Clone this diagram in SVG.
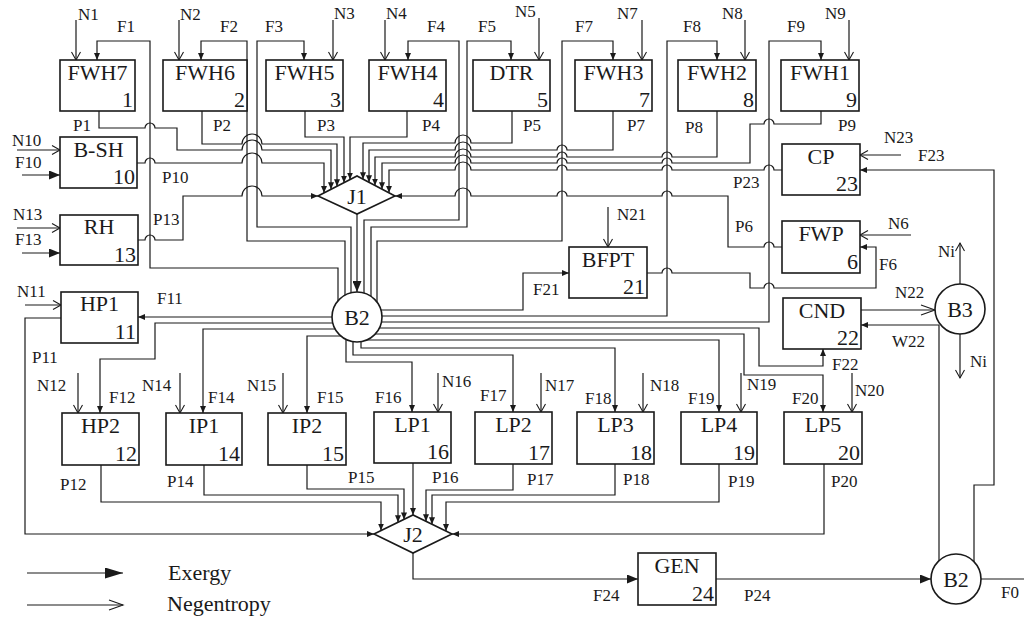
<svg xmlns="http://www.w3.org/2000/svg" width="1024" height="621" viewBox="0 0 1024 621">
<style>
.c path{fill:none;stroke:#1a1a1a;stroke-width:1.2}
.bx rect,.bx circle,.bx polygon{fill:#fff;stroke:#1a1a1a;stroke-width:1.6}
text{font-family:"Liberation Serif","Times New Roman",serif;fill:#1a1a1a}
.t{font-size:22px;text-anchor:middle}
.n{font-size:22px;text-anchor:end}
.l{font-size:17px}
.lg{font-size:22px}
</style>
<defs>
<marker id="s" viewBox="0 0 7 6" refX="7" refY="3" markerWidth="7" markerHeight="6" markerUnits="userSpaceOnUse" orient="auto"><path d="M0,0L7,3L0,6z" fill="#1a1a1a"/></marker>
<marker id="m" viewBox="0 0 11 9" refX="11" refY="4.5" markerWidth="11" markerHeight="9" markerUnits="userSpaceOnUse" orient="auto"><path d="M0,0L11,4.5L0,9z" fill="#1a1a1a"/></marker>
<marker id="L" viewBox="0 0 18 11" refX="18" refY="5.5" markerWidth="18" markerHeight="11" markerUnits="userSpaceOnUse" orient="auto"><path d="M0,0L18,5.5L0,11z" fill="#1a1a1a"/></marker>
<marker id="o" viewBox="-1 -1 10 11" refX="8" refY="4.5" markerWidth="10" markerHeight="11" markerUnits="userSpaceOnUse" orient="auto" overflow="visible"><path d="M0,0L8,4.5L0,9" fill="none" stroke="#1a1a1a" stroke-width="1.1"/></marker>
<marker id="oL" viewBox="-1 -1 16 12" refX="14" refY="5" markerWidth="16" markerHeight="12" markerUnits="userSpaceOnUse" orient="auto" overflow="visible"><path d="M0,0L14,5L0,10" fill="none" stroke="#1a1a1a" stroke-width="1.1"/></marker>
</defs>

<g id="connectors" class="c">
<!-- F lines from B2 to top row -->
<path d="M338,317V268H150V41H97V60" marker-end="url(#s)"/>
<path d="M345,317V241H247V41H201V60" marker-end="url(#s)"/>
<path d="M351,317V227H257V41H304V60" marker-end="url(#s)"/>
<path d="M364,317V220H459V41H408V60" marker-end="url(#s)"/>
<path d="M371,317V227H467V41H511V60" marker-end="url(#s)"/>
<path d="M377,317V241H562V41H613V60" marker-end="url(#s)"/>
<path d="M357,316H667V41H717V60" marker-end="url(#s)"/>
<path d="M357,322H769V41H821V60" marker-end="url(#s)"/>
<!-- B2 right side -->
<path d="M357,310H523V273H569" marker-end="url(#s)"/>
<path d="M357,328H759V366H823V349" marker-end="url(#s)"/>
<path d="M357,334H744V375H823V412" marker-end="url(#s)"/>
<path d="M357,340H719V412" marker-end="url(#s)"/>
<path d="M361,317V348H615V412" marker-end="url(#s)"/>
<path d="M353,317V355H513V412" marker-end="url(#s)"/>
<path d="M346,317V362H412V412" marker-end="url(#s)"/>
<!-- B2 left side -->
<path d="M357,317H138" marker-end="url(#s)"/>
<path d="M357,323H155V359H100V413" marker-end="url(#s)"/>
<path d="M357,329H203V413" marker-end="url(#s)"/>
<path d="M357,336H307V413" marker-end="url(#s)"/>
<!-- J1 to B2 -->
<path d="M357,214V292" marker-end="url(#m)"/>
<!-- P lines into J1 -->
<path d="M99,111V128H145A5,5 0 0 1 155,128H177V150H242A10,10 0 0 1 262,150H331V189.3" marker-end="url(#s)"/>
<path d="M202,111V144H242A10,10 0 0 1 262,144H337V186.3" marker-end="url(#s)"/>
<path d="M305,111V137H344V182.7" marker-end="url(#s)"/>
<path d="M407,111V137H350V179.6" marker-end="url(#s)"/>
<path d="M137,163H145A5,5 0 0 1 155,163H242A10,10 0 0 1 262,163H324V192.9" marker-end="url(#s)"/>
<path d="M138,240H145A5,5 0 0 1 155,240H183V196H242A10,10 0 0 1 262,196H318" marker-end="url(#s)"/>
<path d="M512,111V143H471A8,8 0 0 0 455,143H363V179.2" marker-end="url(#s)"/>
<path d="M613,111V150H567A5,5 0 0 0 557,150H471A8,8 0 0 0 455,150H369V182.3" marker-end="url(#s)"/>
<path d="M717,111V157H672A5,5 0 0 0 662,157H567A5,5 0 0 0 557,157H471A8,8 0 0 0 455,157H375V185.5" marker-end="url(#s)"/>
<path d="M821,111V124H774A5,5 0 0 0 764,124H750V163H672A5,5 0 0 0 662,163H567A5,5 0 0 0 557,163H471A8,8 0 0 0 455,163H382V189.2" marker-end="url(#s)"/>
<path d="M782,170H774A5,5 0 0 0 764,170H672A5,5 0 0 0 662,170H567A5,5 0 0 0 557,170H471A8,8 0 0 0 455,170H389V192.8" marker-end="url(#s)"/>
<path d="M782,247H774A5,5 0 0 0 764,247H728V196H672A5,5 0 0 0 662,196H567A5,5 0 0 0 557,196H471A8,8 0 0 0 455,196H395" marker-end="url(#s)"/>
<!-- F6 from BFPT to FWP -->
<path d="M647,273H662A5,5 0 0 1 672,273H750V288H764A5,5 0 0 1 774,288H876V247H860" marker-end="url(#s)"/>
<!-- P lines into J2 -->
<path d="M61,318H25V534H374" marker-end="url(#s)"/>
<path d="M101,465V502H381V530.6" marker-end="url(#s)"/>
<path d="M204,465V495H398V522.3" marker-end="url(#s)"/>
<path d="M307,465V489H404V519.4" marker-end="url(#s)"/>
<path d="M413,463V515" marker-end="url(#s)"/>
<path d="M513,463V490H426V521.3" marker-end="url(#s)"/>
<path d="M615,464V495H432V524.3" marker-end="url(#s)"/>
<path d="M719,464V502H446V531.1" marker-end="url(#s)"/>
<path d="M824,464V534H452" marker-end="url(#s)"/>
<!-- bottom chain -->
<path d="M413,553V579H638" marker-end="url(#m)"/>
<path d="M716,579H931" marker-end="url(#m)"/>
<path d="M981,579H1024"/>
<path d="M939,579V325H861" marker-end="url(#s)"/>
<path d="M974,579V485H994V170H860" marker-end="url(#s)"/>
<!-- B3 -->
<path d="M861,310H935" marker-end="url(#oL)"/>
<path d="M960,284V243" marker-end="url(#o)"/>
<path d="M960,334V378" marker-end="url(#o)"/>
<!-- N inputs -->
<path d="M76,20V60" marker-end="url(#o)"/>
<path d="M179,20V60" marker-end="url(#o)"/>
<path d="M333,20V60" marker-end="url(#o)"/>
<path d="M385,20V60" marker-end="url(#o)"/>
<path d="M539,18V60" marker-end="url(#o)"/>
<path d="M642,20V60" marker-end="url(#o)"/>
<path d="M745,20V60" marker-end="url(#o)"/>
<path d="M849,20V60" marker-end="url(#o)"/>
<path d="M17,150H60" marker-end="url(#o)"/>
<path d="M22,175H60" marker-end="url(#m)"/>
<path d="M17,228H60" marker-end="url(#o)"/>
<path d="M22,253H60" marker-end="url(#m)"/>
<path d="M25,305H61" marker-end="url(#o)"/>
<path d="M901,155H860" marker-end="url(#o)"/>
<path d="M911,235H860" marker-end="url(#o)"/>
<path d="M608,207V247" marker-end="url(#o)"/>
<path d="M78,373V413" marker-end="url(#o)"/>
<path d="M180,373V413" marker-end="url(#o)"/>
<path d="M283,373V413" marker-end="url(#o)"/>
<path d="M438,373V412" marker-end="url(#o)"/>
<path d="M541,373V412" marker-end="url(#o)"/>
<path d="M643,373V412" marker-end="url(#o)"/>
<path d="M741,373V412" marker-end="url(#o)"/>
<path d="M852,373V412" marker-end="url(#o)"/>
<!-- legend -->
<path d="M27,573H123" marker-end="url(#L)"/>
<path d="M27,605H123" marker-end="url(#oL)"/>
</g>

<g class="bx">
<g id="FWH7"><rect x="60" y="60" width="75" height="51"/><text class="t" x="97.5" y="80">FWH7</text><text class="n" x="133" y="107">1</text></g>
<g id="FWH6"><rect x="163" y="60" width="84" height="51"/><text class="t" x="205" y="80">FWH6</text><text class="n" x="245" y="107">2</text></g>
<g id="FWH5"><rect x="266" y="60" width="77" height="51"/><text class="t" x="304.5" y="80">FWH5</text><text class="n" x="341" y="107">3</text></g>
<g id="FWH4"><rect x="369" y="60" width="77" height="51"/><text class="t" x="407.5" y="80">FWH4</text><text class="n" x="444" y="107">4</text></g>
<g id="DTR"><rect x="473" y="60" width="77" height="51"/><text class="t" x="511.5" y="80">DTR</text><text class="n" x="548" y="107">5</text></g>
<g id="FWH3"><rect x="575" y="60" width="77" height="51"/><text class="t" x="613.5" y="80">FWH3</text><text class="n" x="650" y="107">7</text></g>
<g id="FWH2"><rect x="678" y="60" width="78" height="51"/><text class="t" x="717" y="80">FWH2</text><text class="n" x="754" y="107">8</text></g>
<g id="FWH1"><rect x="781" y="60" width="78" height="51"/><text class="t" x="820" y="80">FWH1</text><text class="n" x="857" y="107">9</text></g>
<g id="BSH"><rect x="60" y="137" width="77" height="51"/><text class="t" x="98.5" y="157">B-SH</text><text class="n" x="135" y="184">10</text></g>
<g id="RH"><rect x="60" y="215" width="78" height="50"/><text class="t" x="99" y="234">RH</text><text class="n" x="136" y="262">13</text></g>
<g id="HP1"><rect x="61" y="292" width="77" height="51"/><text class="t" x="99.5" y="311">HP1</text><text class="n" x="136" y="339">11</text></g>
<g id="CP"><rect x="782" y="144" width="78" height="51"/><text class="t" x="821" y="164">CP</text><text class="n" x="858" y="191">23</text></g>
<g id="FWP"><rect x="782" y="221" width="78" height="52"/><text class="t" x="821" y="241">FWP</text><text class="n" x="858" y="269">6</text></g>
<g id="BFPT"><rect x="569" y="247" width="78" height="51"/><text class="t" x="608" y="267">BFPT</text><text class="n" x="645" y="294">21</text></g>
<g id="CND"><rect x="783" y="298" width="78" height="51"/><text class="t" x="822" y="318">CND</text><text class="n" x="859" y="345">22</text></g>
<g id="HP2"><rect x="62" y="413" width="77" height="52"/><text class="t" x="100.5" y="433">HP2</text><text class="n" x="137" y="461">12</text></g>
<g id="IP1"><rect x="166" y="413" width="76" height="52"/><text class="t" x="204" y="433">IP1</text><text class="n" x="240" y="461">14</text></g>
<g id="IP2"><rect x="268" y="413" width="78" height="52"/><text class="t" x="307" y="433">IP2</text><text class="n" x="344" y="461">15</text></g>
<g id="LP1"><rect x="374" y="412" width="77" height="51"/><text class="t" x="412.5" y="432">LP1</text><text class="n" x="449" y="459">16</text></g>
<g id="LP2"><rect x="475" y="412" width="77" height="52"/><text class="t" x="513.5" y="432">LP2</text><text class="n" x="550" y="460">17</text></g>
<g id="LP3"><rect x="577" y="412" width="77" height="52"/><text class="t" x="615.5" y="432">LP3</text><text class="n" x="652" y="460">18</text></g>
<g id="LP4"><rect x="681" y="412" width="76" height="52"/><text class="t" x="719" y="432">LP4</text><text class="n" x="755" y="460">19</text></g>
<g id="LP5"><rect x="784" y="412" width="78" height="52"/><text class="t" x="823" y="432">LP5</text><text class="n" x="860" y="460">20</text></g>
<g id="GEN"><rect x="638" y="553" width="78" height="52"/><text class="t" x="677" y="573">GEN</text><text class="n" x="714" y="601">24</text></g>
<g id="B2"><circle cx="357" cy="317" r="25"/><text class="t" x="357" y="325">B2</text></g>
<g id="B3"><circle cx="960" cy="309" r="25"/><text class="t" x="960" y="317">B3</text></g>
<g id="B2b"><circle cx="956" cy="579" r="25"/><text class="t" x="956" y="587">B2</text></g>
<g id="J1"><polygon points="318,196 357,176 395,196 357,214"/><text class="t" x="357" y="204">J1</text></g>
<g id="J2"><polygon points="374,534 413,515 452,534 413,553"/><text class="t" x="413" y="542">J2</text></g>
</g>

<g id="labels" class="l">
<text x="78" y="20">N1</text><text x="117" y="32">F1</text><text x="180" y="20">N2</text><text x="220" y="32">F2</text>
<text x="265" y="32">F3</text><text x="334" y="19">N3</text><text x="386" y="19">N4</text><text x="427" y="32">F4</text>
<text x="478" y="32">F5</text><text x="515" y="17">N5</text><text x="575" y="32">F7</text><text x="617" y="19">N7</text>
<text x="683" y="32">F8</text><text x="722" y="19">N8</text><text x="787" y="32">F9</text><text x="825" y="19">N9</text>
<text x="73" y="131">P1</text><text x="213" y="131">P2</text><text x="317" y="131">P3</text><text x="422" y="131">P4</text>
<text x="523" y="131">P5</text><text x="627" y="131">P7</text><text x="685" y="133">P8</text><text x="838" y="131">P9</text>
<text x="12" y="146">N10</text><text x="15" y="168">F10</text><text x="162" y="183">P10</text>
<text x="13" y="220">N13</text><text x="15" y="245">F13</text><text x="153" y="225">P13</text>
<text x="17" y="297">N11</text><text x="157" y="304">F11</text><text x="32" y="363">P11</text>
<text x="733" y="188">P23</text><text x="884" y="143">N23</text><text x="918" y="161">F23</text>
<text x="735" y="232">P6</text><text x="888" y="229">N6</text><text x="879" y="270">F6</text>
<text x="617" y="220">N21</text><text x="533" y="295">F21</text>
<text x="895" y="298">N22</text><text x="892" y="347">W22</text><text x="938" y="257">Ni</text><text x="970" y="367">Ni</text>
<text x="832" y="370">F22</text>
<text x="37" y="391">N12</text><text x="109" y="403">F12</text><text x="142" y="391">N14</text><text x="208" y="403">F14</text>
<text x="247" y="391">N15</text><text x="317" y="403">F15</text><text x="375" y="403">F16</text><text x="442" y="387">N16</text>
<text x="480" y="401">F17</text><text x="545" y="391">N17</text><text x="585" y="404">F18</text><text x="650" y="391">N18</text>
<text x="688" y="404">F19</text><text x="747" y="390">N19</text><text x="792" y="404">F20</text><text x="855" y="396">N20</text>
<text x="60" y="490">P12</text><text x="167" y="487">P14</text><text x="348" y="483">P15</text><text x="432" y="483">P16</text>
<text x="527" y="485">P17</text><text x="623" y="485">P18</text><text x="728" y="487">P19</text><text x="831" y="487">P20</text>
<text x="593" y="601">F24</text><text x="744" y="601">P24</text><text x="1001" y="598">F0</text>
</g>
<g id="legend">
<text class="lg" x="168" y="580">Exergy</text>
<text class="lg" x="167" y="611">Negentropy</text>
</g>
</svg>
